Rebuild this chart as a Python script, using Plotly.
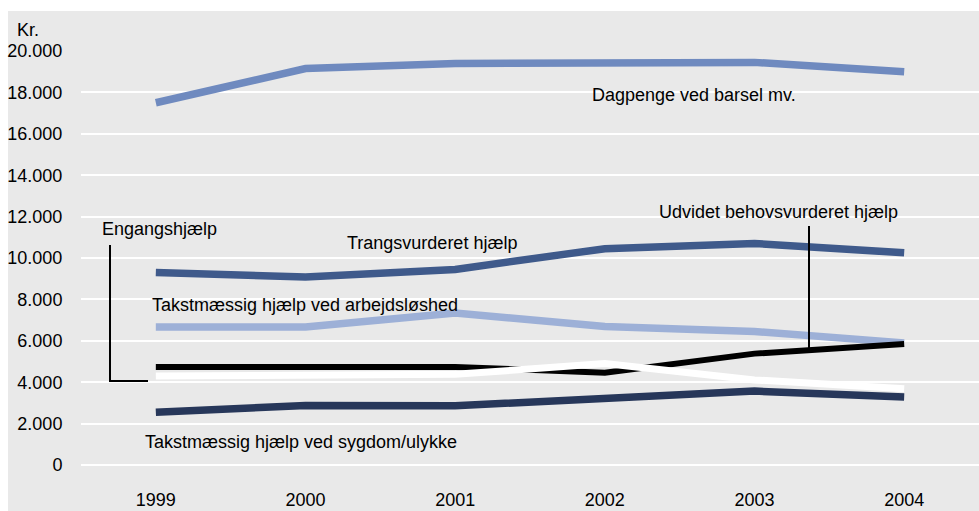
import plotly.graph_objects as go

years = ["1999", "2000", "2001", "2002", "2003", "2004"]
dagpenge = [17500, 19150, 19400, 19450, 19450, 19000]
trangs = [9300, 9080, 9450, 10450, 10700, 10250]
arbejdsloshed = [6670, 6670, 7340, 6690, 6450, 5900]
sygdom = [2550, 2880, 2860, 3240, 3570, 3280]
udvidet = [4730, 4740, 4740, 4460, 5380, 5840]
engang = [4300, 4300, 4380, 4900, 4110, 3680]

W, H = 979, 511
L, R, T, B = 81, 0, 51, 46
PW, PH = W - L - R, H - T - B
FONT = "Liberation Sans, Arial, sans-serif"
FS = 18


def px(x, y):
    return (x - L) / PW, (H - B - y) / PH


fig = go.Figure()
series = [
    (dagpenge, "#6f8abf", 7.5, "Dagpenge ved barsel mv."),
    (trangs, "#3f5a8b", 7.5, "Trangsvurderet hjælp"),
    (arbejdsloshed, "#9db0d7", 7.5, "Takstmæssig hjælp ved arbejdsløshed"),
    (sygdom, "#27375a", 7.5, "Takstmæssig hjælp ved sygdom/ulykke"),
    (udvidet, "#000000", 6, "Udvidet behovsvurderet hjælp"),
    (engang, "#ffffff", 7, "Engangshjælp"),
]
for vals, col, w, name in series:
    fig.add_trace(go.Scatter(x=years, y=vals, mode="lines", name=name,
                             line=dict(color=col, width=w), showlegend=False))

shapes = []
x0, y0 = px(8, 511)
x1, y1 = px(979, 11)
shapes.append(dict(type="rect", xref="paper", yref="paper", x0=x0, y0=y0, x1=x1, y1=y1,
                   fillcolor="#e9e9e9", line=dict(width=0), layer="below"))
# connectors
a = px(110, 245); b = px(110, 381); c = px(148, 381)
shapes.append(dict(type="path", xref="paper", yref="paper",
                   path=f"M {a[0]},{a[1]} L {b[0]},{b[1]} L {c[0]},{c[1]}",
                   line=dict(color="black", width=2)))
a = px(809, 226); b = px(809, 350)
shapes.append(dict(type="line", xref="paper", yref="paper", x0=a[0], y0=a[1], x1=b[0], y1=b[1],
                   line=dict(color="black", width=2)))

labels = [
    ("Dagpenge ved barsel mv.", 590, 95),
    ("Trangsvurderet hjælp", 345, 243),
    ("Takstmæssig hjælp ved arbejdsløshed", 150, 305),
    ("Engangshjælp", 100, 229),
    ("Udvidet behovsvurderet hjælp", 657, 212),
    ("Takstmæssig hjælp ved sygdom/ulykke", 143, 442),
    ("Kr.", 15, 30),
]
annotations = []
for t, x, y in labels:
    ax, ay = px(x, y)
    annotations.append(dict(text=t, x=ax, y=ay, xref="paper", yref="paper",
                            xanchor="left", yanchor="middle", showarrow=False,
                            font=dict(size=FS, color="black", family=FONT)))

fig.update_layout(
    width=W, height=H,
    margin=dict(l=L, r=R, t=T, b=B),
    paper_bgcolor="white",
    plot_bgcolor="#dddddd",
    separators=",.",
    shapes=shapes,
    annotations=annotations,
    font=dict(family=FONT, size=FS, color="black"),
    xaxis=dict(type="category", range=[-0.5, 5.5], showgrid=False, showline=False,
               zeroline=False, ticks="outside", ticklen=18, tickcolor="rgba(0,0,0,0)",
               tickfont=dict(size=FS, color="black", family=FONT)),
    yaxis=dict(range=[0, 20000], dtick=2000, tickformat=",d", showgrid=True,
               gridcolor="white", gridwidth=2, zeroline=True, zerolinecolor="white",
               zerolinewidth=2, showline=False,
               ticks="outside", ticklen=14, tickcolor="rgba(0,0,0,0)",
               tickfont=dict(size=FS, color="black", family=FONT)),
)

fig.write_html("out.html", config={"displayModeBar": False},
               post_script="document.body.style.margin='0';document.body.style.overflow='hidden';")
